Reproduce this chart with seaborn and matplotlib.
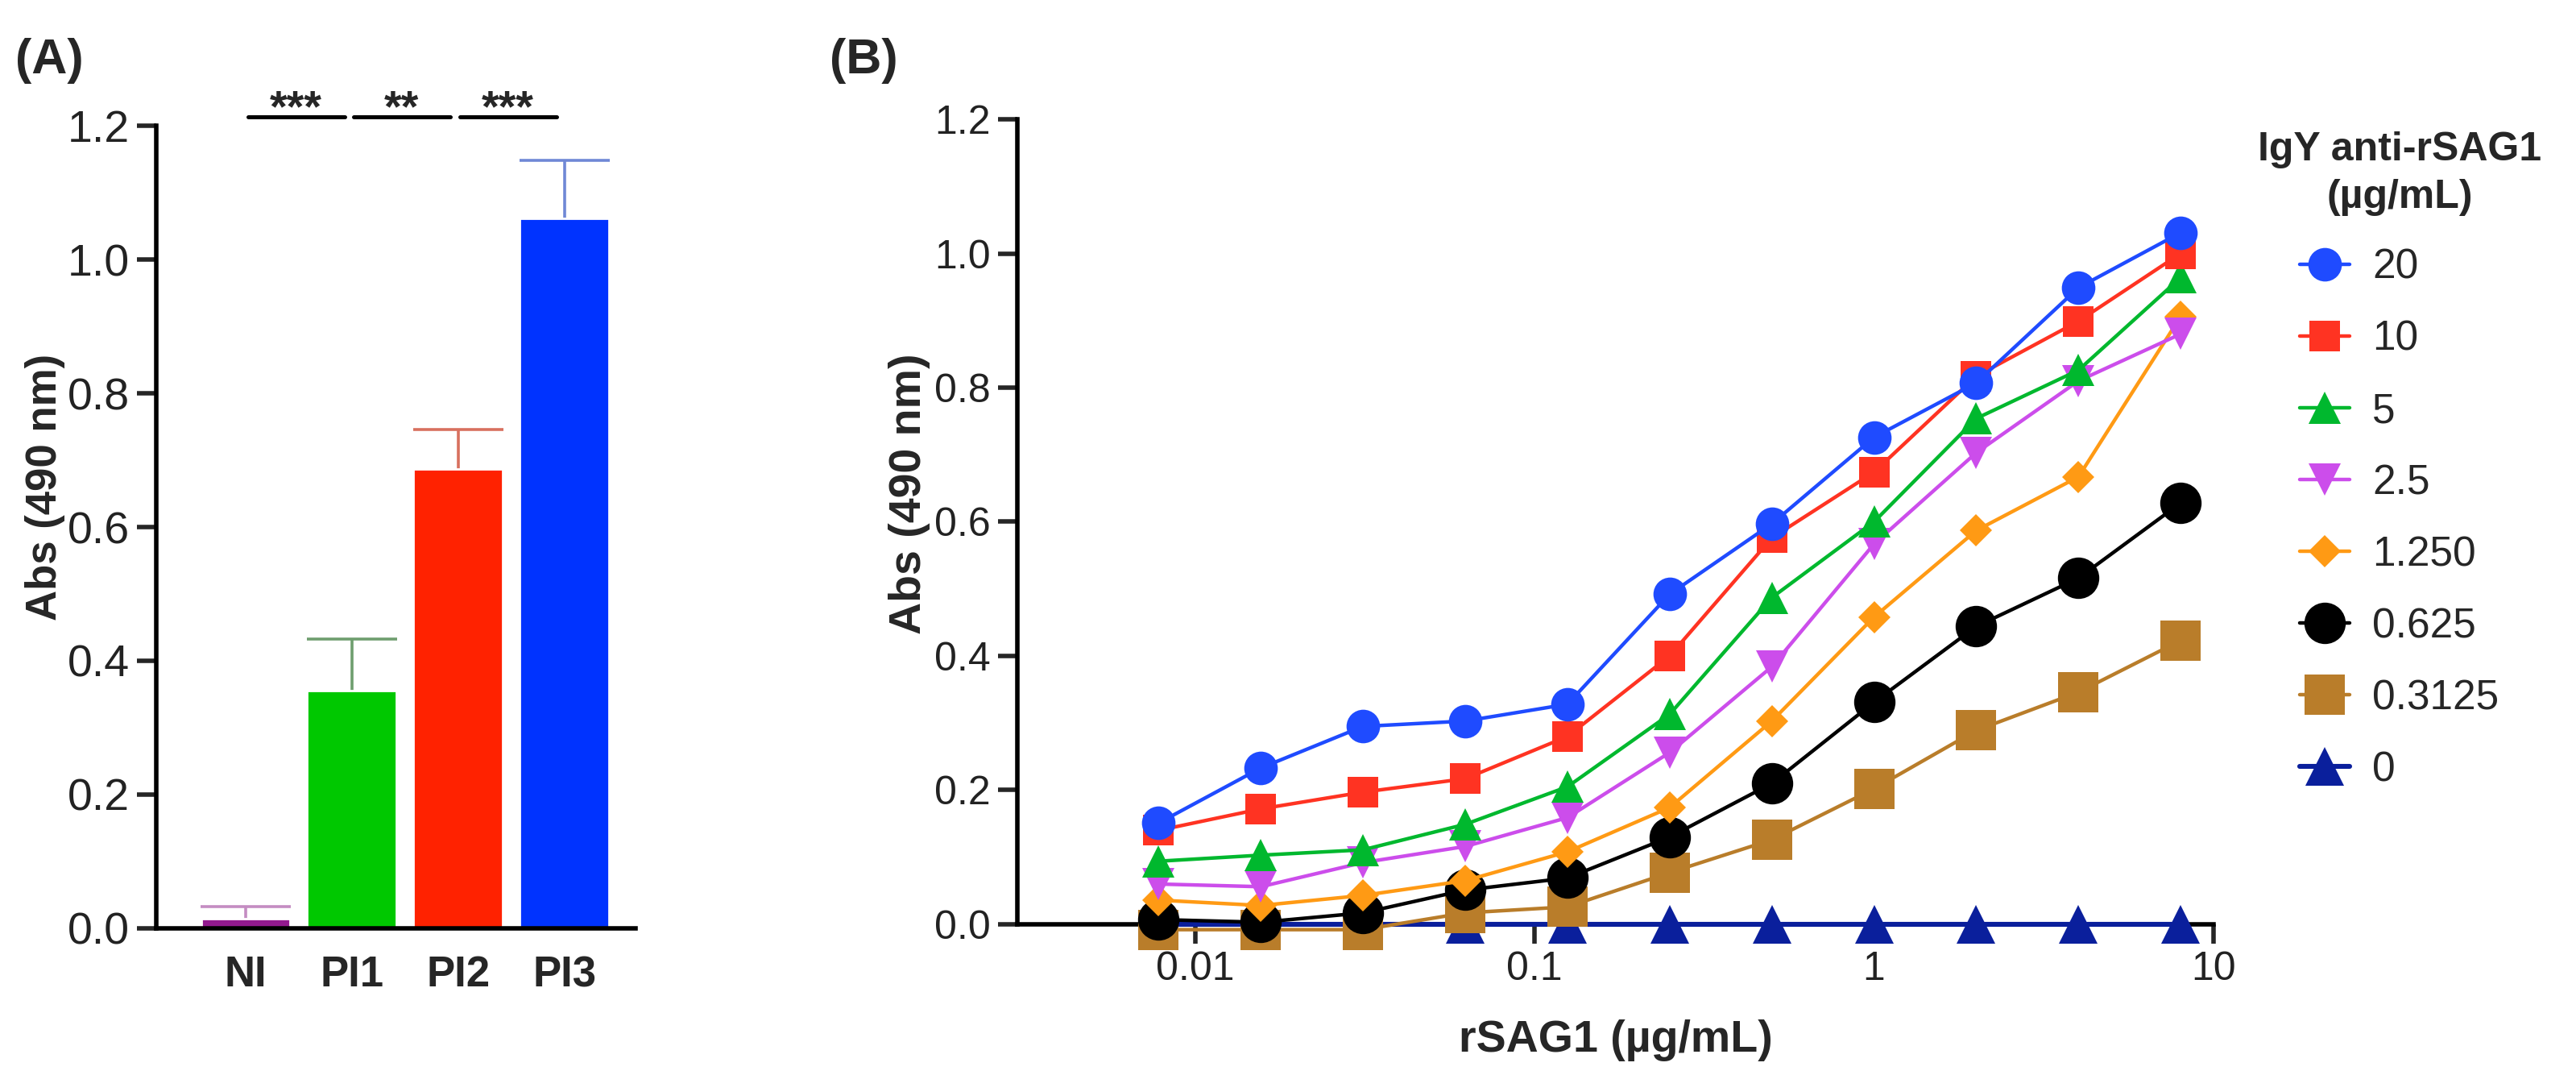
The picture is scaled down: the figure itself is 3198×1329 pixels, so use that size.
import numpy as np
import matplotlib
matplotlib.use("Agg")
import matplotlib.pyplot as plt
from matplotlib.ticker import NullLocator
import seaborn as sns

# panel A: absorbance of sera
groups = ["NI", "PI1", "PI2", "PI3"]
abs_mean = [0.015, 0.355, 0.687, 1.061]
abs_err = [0.017, 0.077, 0.059, 0.087]
bar_colors = ["#921A8E", "#00C800", "#FF2200", "#0033FF"]
err_colors = ["#C48CC2", "#6E9E6E", "#D8705E", "#6F88D6"]
signif = [("***", 0, 1), ("**", 1, 2), ("***", 2, 3)]

# panel B: titration curves
rsag1 = [0.0078125, 0.015625, 0.03125, 0.0625, 0.125, 0.25, 0.5, 1, 2, 4, 8]
igy_labels = ["20", "10", "5", "2.5", "1.250", "0.625", "0.3125", "0"]
abs_20 = [0.151, 0.233, 0.295, 0.303, 0.328, 0.492, 0.597, 0.726, 0.807, 0.949, 1.031]
abs_10 = [0.140, 0.172, 0.197, 0.217, 0.280, 0.400, 0.576, 0.674, 0.817, 0.899, 1.000]
abs_5 = [0.094, 0.103, 0.111, 0.149, 0.205, 0.313, 0.487, 0.600, 0.754, 0.826, 0.964]
abs_2_5 = [0.060, 0.056, 0.092, 0.116, 0.159, 0.256, 0.384, 0.567, 0.703, 0.810, 0.880]
abs_1_25 = [0.036, 0.028, 0.043, 0.065, 0.108, 0.174, 0.303, 0.458, 0.587, 0.667, 0.906]
abs_0_625 = [0.007, 0.003, 0.017, 0.051, 0.069, 0.130, 0.210, 0.331, 0.444, 0.516, 0.628]
abs_0_3125 = [-0.008, -0.008, -0.008, 0.017, 0.026, 0.077, 0.126, 0.202, 0.289, 0.346, 0.423]
abs_0 = [0.0, 0.0, 0.0, 0.0, 0.0, 0.0, 0.0, 0.0, 0.0, 0.0, 0.0]
series = [abs_20, abs_10, abs_5, abs_2_5, abs_1_25, abs_0_625, abs_0_3125, abs_0]

line_colors = ["#1F4BFF", "#FF3322", "#00B82E", "#CC4DEB", "#FF9A14", "#000000", "#B97D2A", "#0A1F9C"]
markers = ["o", "s", "^", "v", "D", "o", "s", "^"]
msizes = [15, 14, 14.5, 14.5, 10, 18.5, 18, 17]

sns.set_style("ticks")
plt.rcParams["font.family"] = ["Liberation Sans", "DejaVu Sans"]
plt.rcParams["axes.linewidth"] = 2.0
plt.rcParams["xtick.major.width"] = 2.0
plt.rcParams["ytick.major.width"] = 2.0
plt.rcParams["xtick.major.size"] = 8.5
plt.rcParams["ytick.major.size"] = 8.5
plt.rcParams["axes.edgecolor"] = "black"

fig = plt.figure(figsize=(15.99, 6.645), dpi=200)

# ---------------- panel A ----------------
ax1 = fig.add_axes([0.0607, 0.1332, 0.186, 0.7494])
sns.barplot(x=groups, y=abs_mean, hue=groups, palette=bar_colors, legend=False,
            width=0.84, saturation=1, ax=ax1, zorder=2)
for i in range(len(groups)):
    eb = ax1.errorbar(i, abs_mean[i], yerr=[[0], [abs_err[i]]], fmt="none",
                      ecolor=err_colors[i], elinewidth=1.3, capsize=20, capthick=1.3, zorder=1)
    eb[1][0].set_visible(False)  # only the upper cap

ax1.set_xlim(-0.84, 3.67)
ax1.set_ylim(0, 1.2)
ax1.set_yticks(np.arange(0, 1.21, 0.2))
ax1.set_yticklabels([f"{v:.1f}" for v in np.arange(0, 1.21, 0.2)], fontsize=20, color="#222222")
ax1.tick_params(axis="x", length=0, pad=12)
for lab in ax1.get_xticklabels():
    lab.set_fontsize(19)
    lab.set_fontweight("bold")
ax1.set_xlabel("")
ax1.set_ylabel("Abs (490 nm)", fontsize=19, fontweight="bold")
ax1.yaxis.set_label_coords(-0.19, 0.55)
sns.despine(ax=ax1)

for stars, a, b in signif:
    ax1.plot([a + 0.02, b - 0.07], [1.213, 1.213], color="black", lw=1.8, clip_on=False)
    ax1.text((a + b) / 2 - 0.03, 1.207, stars, ha="center", va="baseline",
             fontsize=20, fontweight="bold")

# ---------------- panel B ----------------
ax2 = fig.add_axes([0.3950, 0.137, 0.4643, 0.7516])
for i, vals in enumerate(series):
    sns.lineplot(x=rsag1, y=vals, ax=ax2, color=line_colors[i], marker=markers[i],
                 markersize=msizes[i], markeredgewidth=0, lw=2.2 if i == 7 else 1.6,
                 label=igy_labels[i], clip_on=False, zorder=20 - i)

ax2.set_xscale("log")
ax2.set_xlim(0.0030, 10)
ax2.set_ylim(0, 1.2)
ax2.set_xticks([0.01, 0.1, 1, 10])
ax2.set_xticklabels(["0.01", "0.1", "1", "10"], fontsize=18, color="#222222")
ax2.xaxis.set_minor_locator(NullLocator())
ax2.set_yticks(np.arange(0, 1.21, 0.2))
ax2.set_yticklabels([f"{v:.1f}" for v in np.arange(0, 1.21, 0.2)], fontsize=18, color="#222222")
ax2.set_xlabel("rSAG1 (µg/mL)", fontsize=20, fontweight="bold", labelpad=14)
ax2.set_ylabel("Abs (490 nm)", fontsize=20, fontweight="bold")
ax2.yaxis.set_label_coords(-0.073, 0.535)
sns.despine(ax=ax2)

handles, labels = ax2.get_legend_handles_labels()
leg = ax2.legend(handles, labels, loc="upper left", bbox_to_anchor=(0.862, 0.912),
                 bbox_transform=fig.transFigure, frameon=False,
                 title="IgY anti-rSAG1\n(µg/mL)",
                 title_fontproperties={"weight": "bold", "size": 18},
                 fontsize=18.5, handlelength=1.2, handletextpad=0.55, labelspacing=0.78)
leg.get_title().set_multialignment("center")
leg.get_title().set_linespacing(1.35)

fig.text(0.006, 0.943, "(A)", fontsize=22, fontweight="bold", va="center")
fig.text(0.322, 0.943, "(B)", fontsize=22, fontweight="bold", va="center")

fig.savefig("out.png", dpi=200, facecolor="white")
